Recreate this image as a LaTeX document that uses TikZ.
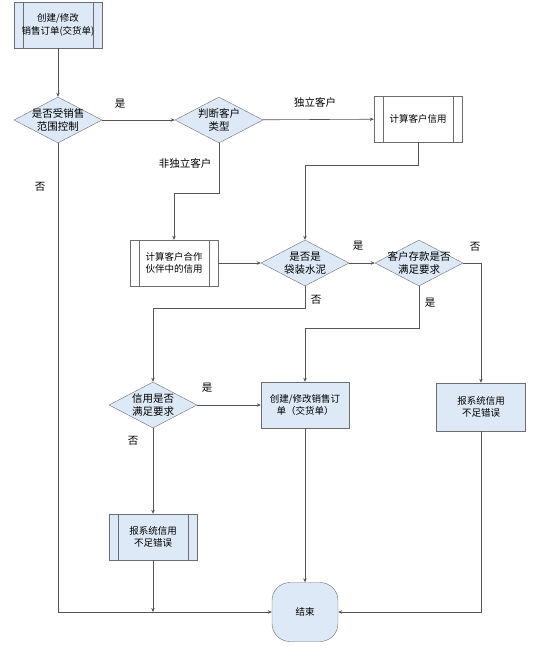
\documentclass[tikz,border=0pt]{standalone}
\usepackage{fontspec}
\setmainfont{Noto Sans CJK SC}
\usetikzlibrary{positioning,arrows.meta,calc,shapes.geometric}
\definecolor{boxFill}{RGB}{221,233,246}
\definecolor{boxLine}{RGB}{110,110,110}
\definecolor{flowLine}{RGB}{85,85,85}
\newcommand{\boxfont}{\fontsize{9.5}{12.5}\selectfont}
\newcommand{\lblfont}{\fontsize{10.5}{13}\selectfont}
\tikzset{
  proc/.style={rectangle, draw=boxLine, fill=boxFill, minimum height=46pt, minimum width=88pt,
               inner sep=1pt, align=center, font=\boxfont},
  subproc/.style={proc, path picture={
      \draw[boxLine] ([xshift=9pt]path picture bounding box.north west) -- ([xshift=9pt]path picture bounding box.south west)
                     ([xshift=-9pt]path picture bounding box.north east) -- ([xshift=-9pt]path picture bounding box.south east);}},
  decide/.style={diamond, draw=boxLine, fill=boxFill, minimum width=88pt, minimum height=46pt, inner sep=0pt},
  term/.style={rectangle, rounded corners=18pt, draw=boxLine, fill=boxFill, minimum width=66pt,
               minimum height=59pt, font=\boxfont},
  flow/.style={-{Stealth[length=4pt,width=3.5pt]}, draw=flowLine, line width=0.6pt},
  lbl/.style={font=\lblfont, inner sep=1pt},
}
\begin{document}
\begin{tikzpicture}[x=1pt, y=-1pt]
  \useasboundingbox (0,0) rectangle (535,649);
  % first row
  \node[subproc] (edit) at (58,25) {创建/修改\\销售订单(交货单)};
  \node[decide, label={[font=\lblfont, align=center]center:是否受销售\\范围控制}] (range) at (58,120) {};
  \node[decide, label={[font=\lblfont, align=center]center:判断客户\\类型}] (ctype) at (219,120) {};
  \node[subproc, fill=white] (credit) at (418,119) {计算客户信用};
  % second row
  \node[subproc, fill=white] (partner) at (174,263) {计算客户合作\\伙伴中的信用};
  \node[decide, label={[font=\lblfont, align=center]center:是否是\\袋装水泥}] (cement) at (305,263) {};
  \node[decide, label={[font=\lblfont, align=center]center:客户存款是否\\满足要求}] (deposit) at (419,263) {};
  % third row
  \node[decide, label={[font=\lblfont, align=center]center:信用是否\\满足要求}] (enough) at (153,405) {};
  \node[proc] (order) at (305,405) {创建/修改销售订\\单（交货单）};
  \node[proc, minimum width=89pt, minimum height=48pt] (errR) at (481,407) {报系统信用\\不足错误};
  \node[subproc] (errL) at (153,537) {报系统信用\\不足错误};
  \node[term] (stop) at (305,612) {结束};
  % connectors
  \draw[flow] (edit) -- (range);
  \draw[flow] (range) -- (ctype);
  \draw[flow] (ctype) -- (credit);
  \draw[flow] (credit.south) -- ++(0,23) -| (cement.north);
  \draw[flow] (ctype.south) -- ++(0,50) -| (partner.north);
  \draw[flow] (partner) -- (cement);
  \draw[flow] (cement) -- (deposit);
  \draw[flow] (deposit.east) -| (errR.north);
  \draw[flow] (deposit.south) -- ++(0,42) -| (order.north);
  \draw[flow] (cement.south) -- ++(0,22) -| (enough.north);
  \draw[flow] (enough) -- (order);
  \draw[flow] (enough) -- (errL);
  \coordinate (join) at (errL.south |- stop.west);
  \draw[flow] (errL.south) -- (join);
  \draw[flow] (range.south) |- (stop.west);
  \draw[flow] (order) -- (stop);
  \draw[flow] (errR.south) |- (stop.east);
  % labels
  \node[lbl] (yesRange) at (120,104) {是};
  \node[lbl] (noRange) at (40,187) {否};
  \node[lbl] (indep) at (315,102) {独立客户};
  \node[lbl] (nonIndep) at (185,163) {非独立客户};
  \node[lbl] (yesCement) at (358,246) {是};
  \node[lbl] (noCement) at (316,300) {否};
  \node[lbl] (noDeposit) at (475,247) {否};
  \node[lbl] (yesDeposit) at (430,303) {是};
  \node[lbl] (yesEnough) at (207,388) {是};
  \node[lbl] (noEnough) at (133,441) {否};
\end{tikzpicture}
\end{document}
